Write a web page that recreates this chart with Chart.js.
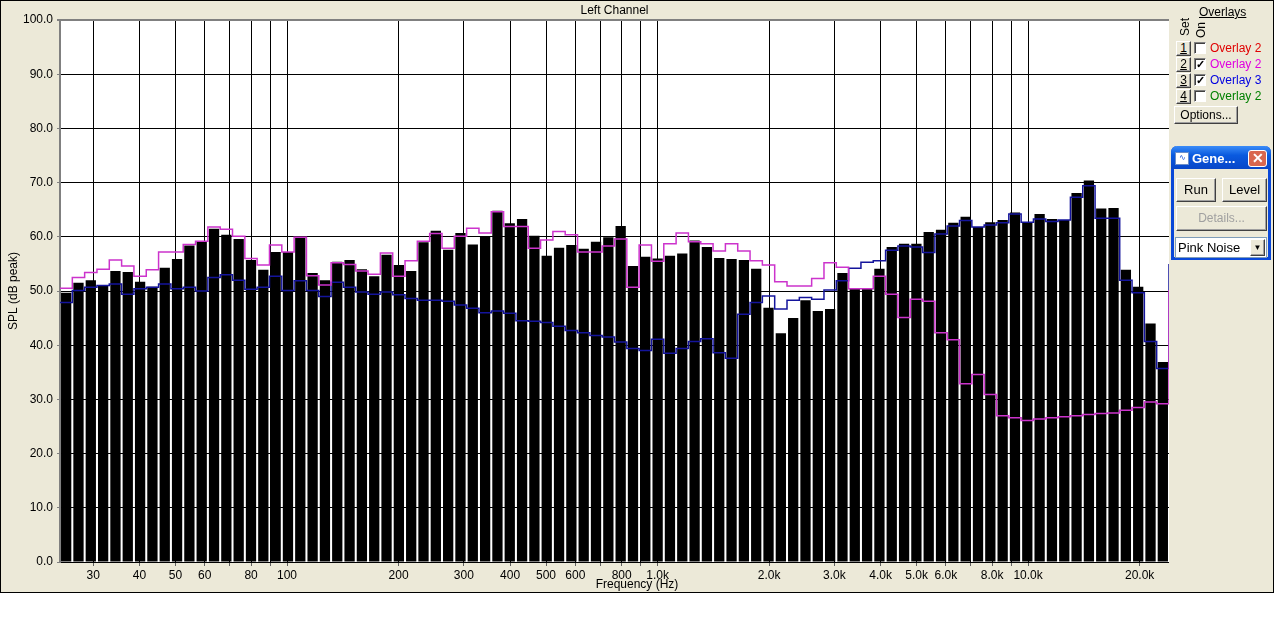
<!DOCTYPE html>
<html>
<head>
<meta charset="utf-8">
<script src="https://cdn.jsdelivr.net/npm/chart.js@4.4.1/dist/chart.umd.min.js"></script>
<style>
body{margin:0;background:#fff;font-family:"Liberation Sans",Arial,sans-serif;font-size:12px;}
#frame{position:absolute;left:0;top:0;width:1274px;height:593px;background:#ECE9D8;border:1px solid #000;box-sizing:border-box;}
#rta{position:absolute;left:0;top:0;}
.abs{position:absolute;white-space:nowrap;}
.btn{position:absolute;background:#ECE9D8;border:1px solid;border-color:#fff #404040 #404040 #fff;box-shadow:inset -1px -1px 0 #a0a0a0;box-sizing:border-box;text-align:center;color:#000;}
.chk{position:absolute;width:12px;height:12px;background:#fff;border:1px solid;border-color:#808080 #fff #fff #808080;box-shadow:inset 1px 1px 0 #404040;box-sizing:border-box;font-size:11px;line-height:11px;text-align:center;font-weight:bold;}
.vert{writing-mode:vertical-rl;transform:rotate(180deg);}
#gene{position:absolute;left:1171px;top:146px;width:100px;height:114px;background:#ECE9D8;border:3px solid #0A48D8;border-top:none;border-radius:6px 6px 0 0;box-sizing:border-box;}
#genebar{position:absolute;left:1171px;top:146px;width:100px;height:23px;border-radius:6px 6px 0 0;background:linear-gradient(#3a8cf8,#0a5adf 40%,#0846c8);}
</style>
</head>
<body>
<div id="frame"></div>
<canvas id="rta" width="1274" height="592"></canvas>

<!-- overlay panel on the right -->
<div class="abs" style="left:1199px;top:5px;text-decoration:underline;">Overlays</div>
<div class="abs vert" style="left:1178px;top:18px;">Set</div>
<div class="abs vert" style="left:1194px;top:22px;">On</div>

<div class="btn" style="left:1176px;top:41px;width:15px;height:15px;line-height:13px;"><u>1</u></div>
<div class="chk" style="left:1194px;top:42px;"></div>
<div class="abs" style="left:1210px;top:41px;color:#e00000;">Overlay 2</div>

<div class="btn" style="left:1176px;top:57px;width:15px;height:15px;line-height:13px;"><u>2</u></div>
<div class="chk" style="left:1194px;top:58px;">&#10003;</div>
<div class="abs" style="left:1210px;top:57px;color:#e000e0;">Overlay 2</div>

<div class="btn" style="left:1176px;top:73px;width:15px;height:15px;line-height:13px;"><u>3</u></div>
<div class="chk" style="left:1194px;top:74px;">&#10003;</div>
<div class="abs" style="left:1210px;top:73px;color:#0000e0;">Overlay 3</div>

<div class="btn" style="left:1176px;top:89px;width:15px;height:15px;line-height:13px;"><u>4</u></div>
<div class="chk" style="left:1194px;top:90px;"></div>
<div class="abs" style="left:1210px;top:89px;color:#008000;">Overlay 2</div>

<div class="btn" style="left:1174px;top:106px;width:64px;height:18px;line-height:16px;">Options...</div>

<div id="gene"></div>
<div id="genebar"></div>
<div class="abs" style="left:1175px;top:152px;width:12px;height:11px;background:#fff;border:1px solid #6b8ec8;font-size:8px;line-height:10px;color:#0a48d8;text-align:center;">&#8767;</div>
<div class="abs" style="left:1192px;top:151px;color:#fff;font-weight:bold;font-size:13px;">Gene...</div>
<div class="abs" style="left:1248px;top:150px;width:19px;height:17px;background:#d9674f;border:1px solid #fff;border-radius:3px;box-sizing:border-box;color:#fff;font-weight:bold;font-size:14px;line-height:15px;text-align:center;">&#10005;</div>
<div class="btn" style="left:1176px;top:178px;width:40px;height:24px;line-height:22px;font-size:13px;">Run</div>
<div class="btn" style="left:1222px;top:178px;width:45px;height:24px;line-height:22px;font-size:13px;">Level</div>
<div class="btn" style="left:1176px;top:206px;width:91px;height:25px;line-height:23px;color:#a0a0a0;">Details...</div>
<div class="abs" style="left:1175px;top:237px;width:92px;height:21px;background:#fff;border:1px solid #7f9db9;box-sizing:border-box;line-height:19px;padding-left:2px;font-size:13px;">Pink Noise</div>
<div class="btn" style="left:1250px;top:239px;width:15px;height:17px;line-height:15px;font-size:8px;">&#9660;</div>

<script>
// RTA bins, 90 bins across 24 Hz .. 24 kHz (30 per decade)
const barLevels = [
  49.7, 51.5, 52.0, 51.0, 53.7, 53.5, 51.7, 50.8, 54.3, 55.9,
  58.4, 59.1, 61.5, 60.4, 59.6, 55.7, 53.9, 57.2, 57.2, 59.9,
  53.3, 52.0, 55.4, 55.7, 54.0, 52.7, 56.7, 54.8, 53.7, 59.0,
  61.1, 57.6, 60.7, 58.6, 60.0, 64.8, 62.5, 63.3, 60.2, 56.5,
  58.0, 58.5, 57.8, 59.1, 59.9, 62.0, 54.6, 56.3, 56.0, 56.5,
  56.9, 59.3, 58.1, 56.1, 55.9, 55.7, 54.1, 46.9, 42.2, 45.0,
  48.3, 46.3, 46.7, 53.3, 50.4, 50.4, 54.1, 58.1, 58.7, 58.7,
  60.9, 61.3, 62.6, 63.7, 61.8, 62.7, 63.1, 64.5, 62.6, 64.2,
  63.3, 63.1, 68.1, 70.4, 65.2, 65.3, 53.9, 50.8, 44.0, 36.9
];
// overlays: one level per bin + the level at the right edge
const overlay2 = [
  50.5, 52.5, 53.4, 54.0, 55.7, 54.6, 52.7, 53.9, 57.2, 57.2,
  58.6, 59.2, 61.8, 61.4, 60.1, 56.0, 54.8, 58.5, 57.2, 59.9,
  52.8, 51.1, 55.2, 54.9, 53.7, 53.1, 57.0, 52.7, 55.6, 59.2,
  60.6, 57.9, 60.1, 61.6, 60.7, 64.6, 61.9, 61.9, 57.9, 59.4,
  61.0, 60.4, 57.2, 57.2, 58.3, 59.6, 50.7, 58.5, 55.5, 58.7,
  60.7, 59.1, 58.7, 57.4, 58.7, 57.4, 55.6, 54.8, 51.7, 50.9,
  50.9, 52.3, 55.2, 54.4, 50.4, 50.4, 52.7, 49.4, 45.1, 48.5,
  48.1, 42.3, 41.0, 32.9, 34.6, 30.9, 27.0, 26.6, 26.1, 26.4,
  26.6, 26.8, 27.0, 27.2, 27.4, 27.5, 28.0, 28.5, 29.5, 29.2,
  50.2
];
const overlay3 = [
  47.9, 50.1, 50.7, 51.0, 51.3, 49.4, 50.4, 50.7, 51.3, 50.4,
  50.7, 50.0, 52.5, 53.0, 52.0, 50.3, 50.7, 52.7, 50.1, 51.9,
  50.1, 49.0, 51.6, 50.7, 49.8, 49.4, 49.8, 49.3, 48.6, 48.3,
  48.3, 48.1, 47.4, 46.8, 46.0, 46.3, 45.9, 44.5, 44.4, 44.2,
  43.5, 42.7, 42.3, 41.8, 41.5, 40.6, 39.4, 39.0, 41.1, 38.5,
  39.4, 40.7, 41.2, 38.6, 37.6, 45.7, 47.9, 49.1, 46.7, 48.3,
  48.8, 48.5, 50.2, 51.9, 54.2, 55.3, 55.6, 57.5, 58.3, 58.1,
  57.1, 60.5, 62.0, 63.0, 61.8, 62.2, 62.6, 64.2, 62.7, 63.3,
  62.8, 63.1, 67.3, 69.4, 63.4, 63.4, 52.0, 49.7, 40.7, 35.7,
  55.0
];
const freqTicks = [30,40,50,60,70,80,90,100,200,300,400,500,600,700,800,900,
  1000,2000,3000,4000,5000,6000,7000,8000,9000,10000,20000];
const freqLabels = ['30','40','50','60','','80','','100','200','300','400','500','600','','800','',
  '1.0k','2.0k','3.0k','4.0k','5.0k','6.0k','','8.0k','','10.0k','20.0k'];
const freqMin = 24.4, freqMax = 24000;

Chart.defaults.font.family = '"Liberation Sans", Arial, sans-serif';
Chart.defaults.font.size = 12;
Chart.defaults.color = '#000';

// white plot area + the x title centred on the whole window
const plotBits = {
  id: 'plotBits',
  beforeDraw(chart){
    const a = chart.chartArea, c = chart.ctx;
    c.save();
    c.fillStyle = '#fff';
    c.fillRect(a.left, a.top, a.right - a.left, a.bottom - a.top);
    c.restore();
  },
  afterDraw(chart){
    const c = chart.ctx;
    c.save();
    c.font = '12px "Liberation Sans", Arial, sans-serif';
    c.fillStyle = '#000';
    c.textAlign = 'center';
    c.textBaseline = 'middle';
    c.fillText('Frequency (Hz)', chart.width / 2, 585);
    c.restore();
  }
};

function edgePoints(arr){
  return arr.map((v, i) => ({x: i - 0.5, y: v}));
}

new Chart(document.getElementById('rta'), {
  type: 'bar',
  data: {
    datasets: [
      {
        type: 'line', label: 'Overlay 2', data: edgePoints(overlay2),
        borderColor: '#cc33cc', borderWidth: 1.5, pointRadius: 0, stepped: 'before', order: 1
      },
      {
        type: 'line', label: 'Overlay 3', data: edgePoints(overlay3),
        borderColor: '#14149c', borderWidth: 1.5, pointRadius: 0, stepped: 'before', order: 1
      },
      {
        label: 'Left Channel', data: barLevels.map((v, i) => ({x: i, y: v})),
        backgroundColor: '#000', categoryPercentage: 1, barPercentage: 0.835, order: 2
      }
    ]
  },
  options: {
    responsive: false,
    devicePixelRatio: 1,
    animation: false,
    layout: {padding: {left: 0, right: 105, top: 0, bottom: 0}},
    plugins: {
      legend: {display: false},
      tooltip: {enabled: false},
      title: {
        display: true, text: 'Left Channel', fullSize: false,
        font: {size: 12, weight: 'normal', lineHeight: 1.2},
        padding: {top: 3, bottom: 2.6}
      }
    },
    scales: {
      x: {type: 'linear', min: -0.5, max: 89.5, offset: false, display: false},
      xf: {
        type: 'logarithmic', position: 'bottom', min: freqMin, max: freqMax, offset: false,
        afterBuildTicks: s => { s.ticks = freqTicks.map(v => ({value: v})); },
        afterFit: s => { s.height = 30; },
        ticks: {autoSkip: false, maxRotation: 0, padding: 2,
          callback: (v, i) => freqLabels[i]},
        grid: {color: '#000', tickColor: '#606060', tickLength: 4, offset: false},
        border: {display: false}
      },
      y: {
        min: 0, max: 100,
        afterFit: s => { s.width = 60; },
        ticks: {stepSize: 10, padding: 4, callback: v => v.toFixed(1)},
        grid: {
          color: c => (c.tick && c.tick.value === 100) ? '#808080' : '#000',
          lineWidth: c => (c.tick && c.tick.value === 100) ? 2 : 1,
          tickColor: '#808080', tickLength: 3
        },
        border: {color: '#808080', width: 2},
        title: {display: true, text: 'SPL (dB peak)', padding: {top: 6, bottom: 0}}
      }
    }
  },
  plugins: [plotBits]
});
</script>
</body>
</html>
